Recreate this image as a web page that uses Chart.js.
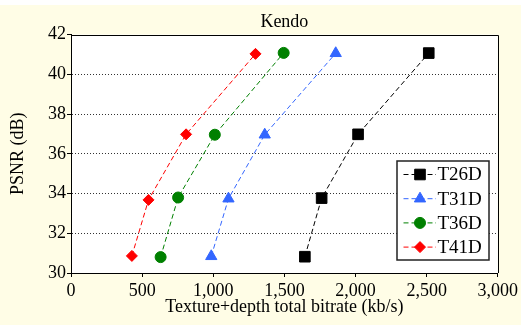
<!DOCTYPE html>
<html>
<head>
<meta charset="utf-8">
<title>Kendo</title>
<script src="https://cdn.jsdelivr.net/npm/chart.js@4.4.1/dist/chart.umd.min.js"></script>
<style>
  html, body { margin: 0; padding: 0; background: #fff; }
  #wrap { margin-top: 5px; width: 521px; height: 320px; background: #fffde6; }
  canvas { display: block; }
</style>
</head>
<body>
<div id="wrap"><canvas id="grafico-kendo" width="521" height="320"></canvas></div>
<script>
// datos (bitrate kb/s, PSNR dB)
const chartTitle = 'Kendo';
const seriesNames = ['T26D', 'T31D', 'T36D', 'T41D'];
const bitrateT26D = [1644, 1762, 2018, 2515];
const psnrT26D = [30.82, 33.77, 36.98, 41.07];
const bitrateT31D = [986, 1107, 1362, 1861];
const psnrT31D = [30.84, 33.74, 36.96, 41.06];
const bitrateT36D = [630, 753, 1011, 1495];
const psnrT36D = [30.80, 33.80, 36.96, 41.08];
const bitrateT41D = [428, 545, 809, 1297];
const psnrT41D = [30.86, 33.68, 36.98, 41.03];
const xTickValues = [0, 500, 1000, 1500, 2000, 2500, 3000];
const yTickValues = [30, 32, 34, 36, 38, 40, 42];

const bitrates = [bitrateT26D, bitrateT31D, bitrateT36D, bitrateT41D];
const psnrs = [psnrT26D, psnrT31D, psnrT36D, psnrT41D];

const seriesStyle = [
    { color: '#000000', pointStyle: 'rect', radius: 7.5 },
    { color: '#3366ff', pointStyle: 'triangle', radius: 6.5 },
    { color: '#008000', pointStyle: 'circle', radius: 5.5 },
    { color: '#ff0000', pointStyle: 'rectRot', radius: 5.5 }
];

const FONT = '"Liberation Serif", "Times New Roman", serif';
const DASH = [5, 3];

const datasets = seriesNames.map((name, i) => ({
    label: name,
    data: bitrates[i].map((x, j) => ({ x: x, y: psnrs[i][j] })),
    borderColor: seriesStyle[i].color,
    backgroundColor: seriesStyle[i].color,
    borderWidth: 1,
    borderDash: DASH,
    pointStyle: seriesStyle[i].pointStyle,
    pointRadius: seriesStyle[i].radius,
    pointBorderWidth: 1,
    showLine: true,
    tension: 0
}));

// fondo blanco del área y marco arriba/derecha
const plotFrame = {
    id: 'plotFrame',
    beforeDraw(chart) {
        const { ctx, chartArea: a } = chart;
        ctx.save();
        ctx.fillStyle = '#fff';
        ctx.fillRect(a.left, a.top, a.right - a.left, a.bottom - a.top);
        ctx.restore();
    },
    beforeDatasetsDraw(chart) {
        const { ctx, chartArea: a } = chart;
        ctx.save();
        ctx.strokeStyle = '#000';
        ctx.lineWidth = 1;
        ctx.beginPath();
        ctx.moveTo(Math.round(a.left), Math.round(a.top) + 0.5);
        ctx.lineTo(Math.round(a.right) + 0.5, Math.round(a.top) + 0.5);
        ctx.lineTo(Math.round(a.right) + 0.5, Math.round(a.bottom));
        ctx.stroke();
        ctx.restore();
    }
};

// leyenda dentro del área del gráfico
const legendBox = {
    id: 'legendBox',
    afterDatasetsDraw(chart) {
        const { ctx, chartArea: a } = chart;
        const w = 92, h = 99;
        const x0 = Math.round(a.right - 8.5 - w);
        const y0 = Math.round(a.bottom - 13 - h);
        ctx.save();
        ctx.fillStyle = '#fff';
        ctx.fillRect(x0, y0, w, h);
        ctx.lineWidth = 1.5;
        ctx.strokeStyle = '#222';
        ctx.strokeRect(x0, y0, w, h);
        chart.data.datasets.forEach((ds, i) => {
            const cy = y0 + 13.5 + i * 24.2;
            ctx.setLineDash(DASH);
            ctx.lineWidth = 1;
            ctx.strokeStyle = ds.borderColor;
            ctx.beginPath();
            ctx.moveTo(x0 + 6.5, cy);
            ctx.lineTo(x0 + 39, cy);
            ctx.stroke();
            ctx.setLineDash([]);
            ctx.fillStyle = ds.backgroundColor;
            Chart.helpers.drawPoint(ctx, {
                pointStyle: ds.pointStyle,
                radius: ds.pointRadius,
                borderWidth: 1,
                rotation: 0
            }, x0 + 23, cy);
            ctx.fillStyle = '#000';
            ctx.font = '19px ' + FONT;
            ctx.textBaseline = 'middle';
            ctx.textAlign = 'left';
            ctx.fillText(ds.label, x0 + 40.5, cy + 1);
        });
        ctx.restore();
    }
};

const ctx = document.getElementById('grafico-kendo').getContext('2d');
new Chart(ctx, {
    type: 'scatter',
    data: { datasets: datasets },
    plugins: [plotFrame, legendBox],
    options: {
        responsive: false,
        animation: false,
        devicePixelRatio: 1,
        layout: { padding: { left: 0, right: 21, top: 0, bottom: 0 } },
        plugins: {
            legend: { display: false },
            tooltip: { enabled: false },
            title: {
                display: true,
                text: chartTitle,
                fullSize: false,
                color: '#000',
                font: { family: FONT, size: 18, weight: 'normal' },
                padding: { top: 6, bottom: 2 }
            }
        },
        scales: {
            x: {
                type: 'linear',
                min: 0,
                max: 3000,
                afterBuildTicks: (scale) => {
                    scale.ticks = xTickValues.map(v => ({ value: v }));
                },
                afterFit: (scale) => { scale.height = 52; },
                ticks: {
                    color: '#000',
                    padding: 3,
                    font: { family: FONT, size: 18 },
                    maxRotation: 0,
                    callback: (v) => v.toLocaleString('en-US')
                },
                grid: {
                    drawOnChartArea: false,
                    drawTicks: true,
                    tickLength: 4,
                    tickColor: '#000',
                    color: '#000'
                },
                border: { display: true, color: '#000', width: 1 },
                title: {
                    display: true,
                    text: 'Texture+depth total bitrate (kb/s)',
                    color: '#000',
                    font: { family: FONT, size: 18 },
                    padding: { top: 0, bottom: 7 }
                }
            },
            y: {
                type: 'linear',
                min: 30,
                max: 42,
                afterBuildTicks: (scale) => {
                    scale.ticks = yTickValues.map(v => ({ value: v }));
                },
                afterFit: (scale) => { scale.width = 71; },
                ticks: {
                    color: '#000',
                    padding: 1,
                    font: { family: FONT, size: 18 }
                },
                grid: {
                    drawTicks: true,
                    tickLength: 4,
                    tickColor: '#000',
                    tickBorderDash: [],
                    lineWidth: 1,
                    color: (c) => (c.tick && (c.tick.value === 30 || c.tick.value === 42)) ? 'rgba(0,0,0,0)' : '#333'
                },
                border: { display: true, color: '#000', width: 1, dash: [1, 2] },
                title: {
                    display: true,
                    text: 'PSNR (dB)',
                    color: '#000',
                    font: { family: FONT, size: 18 },
                    padding: { top: 7, bottom: 0 }
                }
            }
        }
    }
});
</script>
</body>
</html>
